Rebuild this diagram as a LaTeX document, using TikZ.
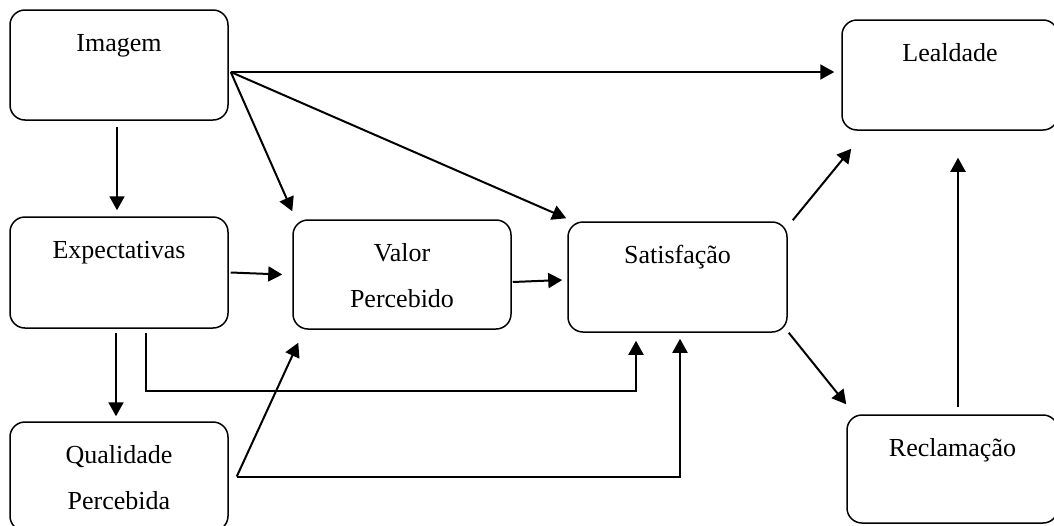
\documentclass[tikz,border=0pt]{standalone}
\usepackage{fontspec}
\setmainfont{Liberation Serif}
\usetikzlibrary{arrows.meta}

\begin{document}
\begin{tikzpicture}[x=0.5pt, y=-0.5pt, >={Triangle[length=7pt,width=7.5pt]},
                line width=1pt]

    % Define the styles for the boxes and their captions
    \tikzset{box/.style={rectangle, draw, rounded corners=7.5pt, line width=0.75pt, inner sep=0pt},
             caption/.style={anchor=base, yshift=-21pt, align=center, inner sep=0pt,
                             font=\fontsize{13}{23}\selectfont},
             twoline/.style={caption, yshift=-23pt}} % base sits on the last line

    \useasboundingbox (0,0) rectangle (1054,525);
    \clip (0,0) rectangle (1054,525);

    % Boxes
    \node[box, minimum width=109pt, minimum height=55pt, label={[caption]north:Imagem}] (img) at (119,65) {};
    \node[box, minimum width=108pt, minimum height=55pt, label={[caption]north:Lealdade}] (lea) at (950,75) {};
    \node[box, minimum width=109pt, minimum height=55.5pt, label={[caption]north:Expectativas}] (exp) at (119,272.5) {};
    \node[box, minimum width=109pt, minimum height=54.5pt, label={[twoline]north:{Valor\\Percebido}}] (val) at (402,274.5) {};
    \node[box, minimum width=109.5pt, minimum height=55pt, label={[caption]north:Satisfação}] (sat) at (677.5,277) {};
    \node[box, minimum width=109pt, minimum height=54.5pt, label={[twoline]north:{Qualidade\\Percebida}}] (qua) at (119,476.5) {};
    \node[box, minimum width=105.5pt, minimum height=54pt, label={[caption]north:Reclamação}] (rec) at (952.5,469) {};

    % Arrows
    \coordinate (imgout) at ([xshift=1pt,yshift=-3.5pt]img.east);
    \coordinate (quaout) at ([xshift=4pt]qua.east);

    \draw[->] ([xshift=-1pt,yshift=-3pt]img.south) -- ([xshift=-1pt,yshift=3pt]exp.north);
    \draw[->] (imgout) -- ([xshift=-3.5pt,yshift=1.5pt]lea.west);
    \draw[->] (imgout) -- ([yshift=4pt]val.north west);
    \draw[->] (imgout) -- ([xshift=-0.5pt,yshift=1.5pt]sat.north west);
    \draw[->] ([xshift=1pt]exp.east) -- ([xshift=-5pt]val.west);
    \draw[->] ([xshift=0.5pt,yshift=-3.75pt]val.east) -- ([xshift=-2.5pt,yshift=-1.5pt]sat.west);
    \draw[->] ([xshift=-1.5pt,yshift=-2pt]exp.south) -- ([xshift=-1.5pt,yshift=2.5pt]qua.north);
    \draw[->] ([xshift=13.5pt,yshift=-2pt]exp.south) -- ++(0,58) -| ([xshift=-20.75pt,yshift=-4pt]sat.south);
    \draw[->] (quaout) -- ([xshift=3pt,yshift=-6.5pt]val.south west);
    \draw[->] (quaout) -| ([xshift=1.25pt,yshift=-3pt]sat.south);
    \draw[->] ([xshift=2.5pt,yshift=0.5pt]sat.north east) -- ([xshift=5pt,yshift=-9pt]lea.south west);
    \draw[->] ([xshift=0.5pt]sat.south east) -- ([yshift=5pt]rec.north west);
    \draw[->] ([xshift=2.75pt,yshift=3.5pt]rec.north) -- ([xshift=4pt,yshift=-13.5pt]lea.south);
\end{tikzpicture}
\end{document}
